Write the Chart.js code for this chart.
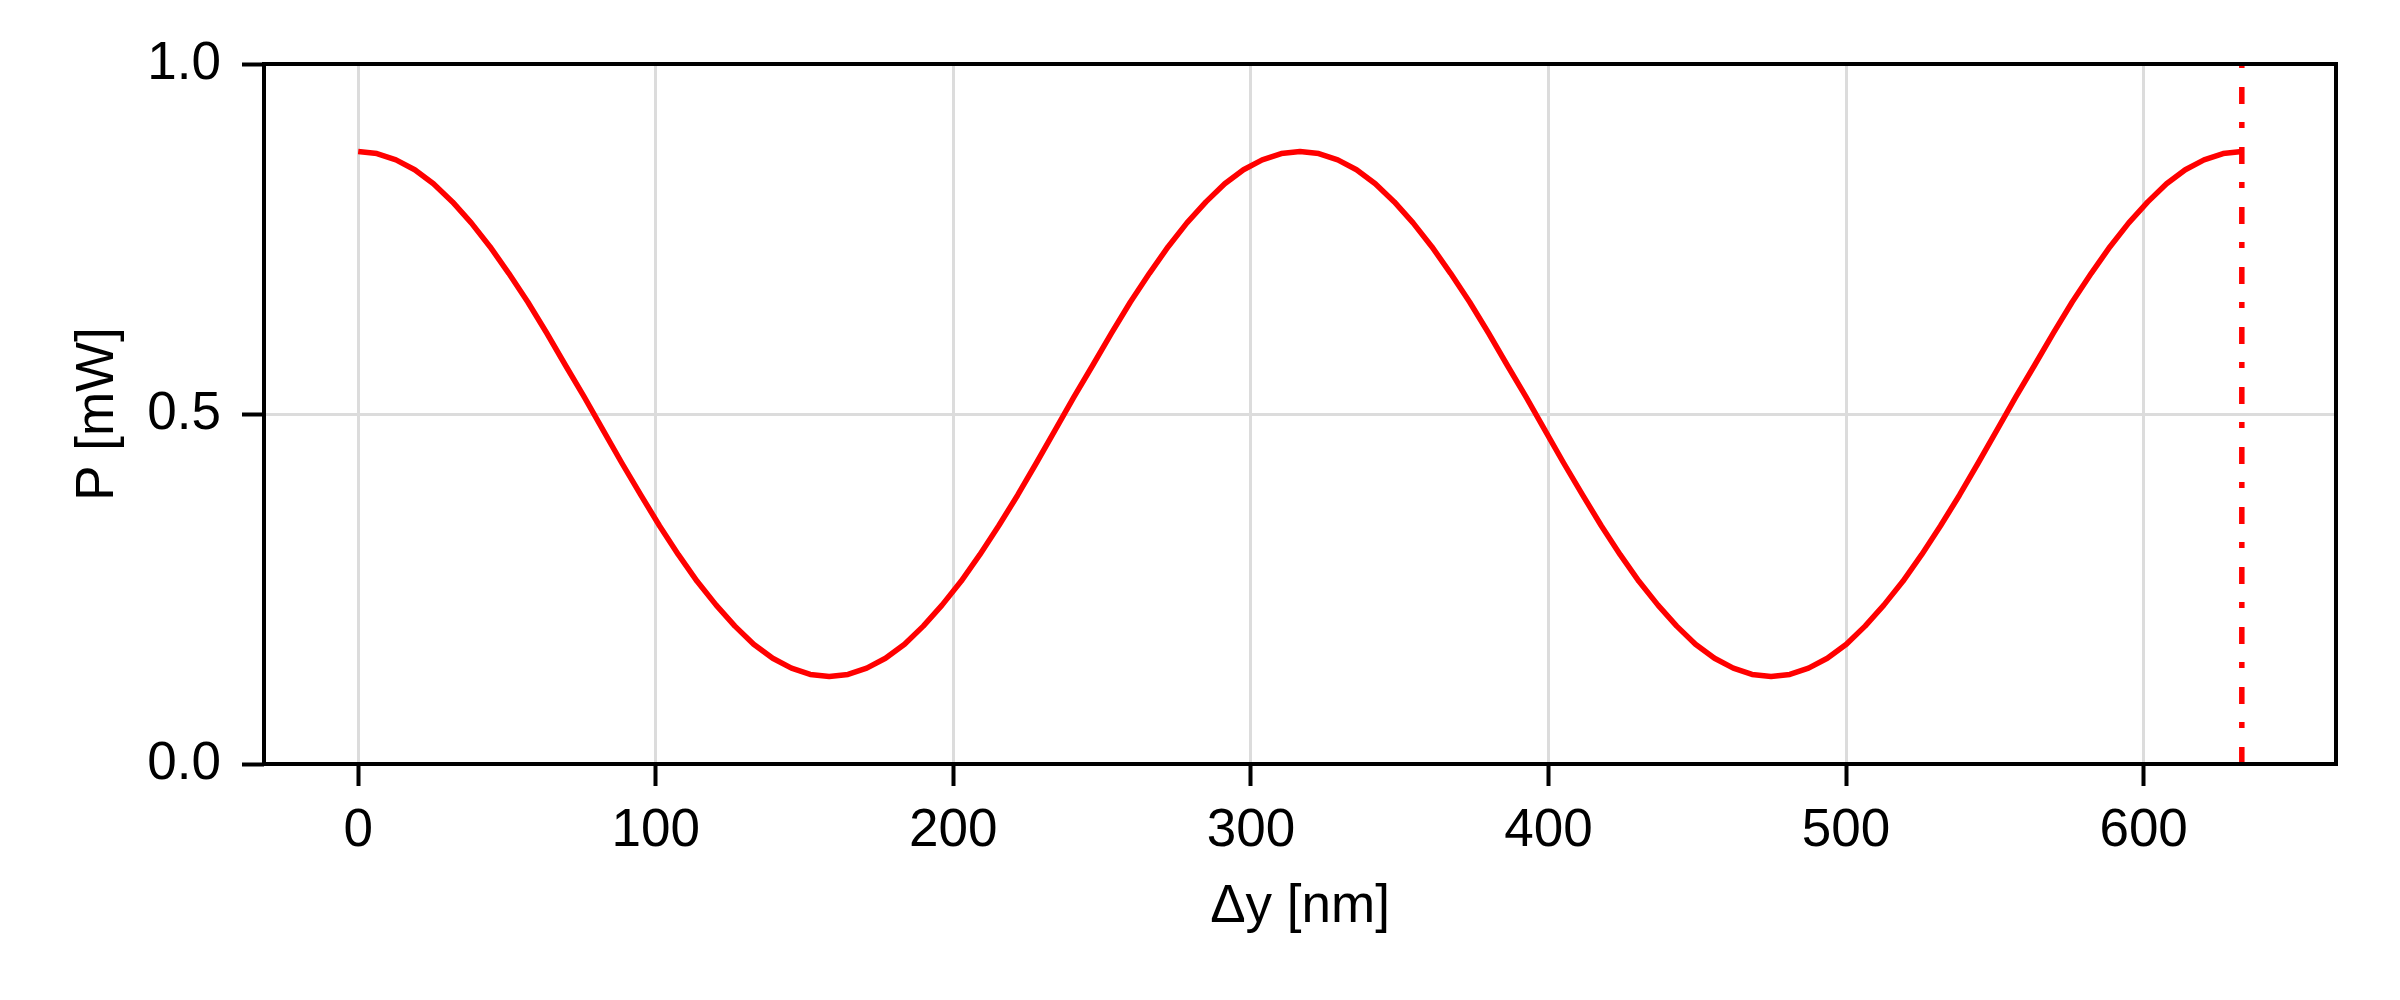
<!DOCTYPE html>
<html>
<head>
<meta charset="utf-8">
<script src="https://cdn.jsdelivr.net/npm/chart.js@4"></script>
<style>
  html, body { margin: 0; padding: 0; background: #fff; }
  #plot { display: block; }
</style>
</head>
<body>
<canvas id="plot" width="2400" height="1000"></canvas>
<script>
// Δy sweep [nm] and detected power [mW]
const DY = [
  0, 6.3, 12.7, 19.0, 25.3, 31.7, 38.0, 44.3, 50.6, 57.0,
  63.3, 69.6, 76.0, 82.3, 88.6, 95.0, 101.3, 107.6, 113.9, 120.3,
  126.6, 132.9, 139.3, 145.6, 151.9, 158.3, 164.6, 170.9, 177.2, 183.6,
  189.9, 196.2, 202.6, 208.9, 215.2, 221.6, 227.9, 234.2, 240.5, 246.9,
  253.2, 259.5, 265.9, 272.2, 278.5, 284.9, 291.2, 297.5, 303.8, 310.2,
  316.5, 322.8, 329.2, 335.5, 341.8, 348.2, 354.5, 360.8, 367.1, 373.5,
  379.8, 386.1, 392.5, 398.8, 405.1, 411.5, 417.8, 424.1, 430.4, 436.8,
  443.1, 449.4, 455.8, 462.1, 468.4, 474.8, 481.1, 487.4, 493.7, 500.1,
  506.4, 512.7, 519.1, 525.4, 531.7, 538.1, 544.4, 550.7, 557.0, 563.4,
  569.7, 576.0, 582.4, 588.7, 595.0, 601.4, 607.7, 614.0, 620.3, 626.7,
  633.0
];
const P_MW = [
  0.875, 0.872, 0.863, 0.849, 0.829, 0.803, 0.773, 0.739, 0.701, 0.660,
  0.616, 0.570, 0.524, 0.477, 0.430, 0.384, 0.340, 0.299, 0.261, 0.227,
  0.197, 0.171, 0.151, 0.137, 0.128, 0.125, 0.128, 0.137, 0.151, 0.171,
  0.197, 0.227, 0.261, 0.299, 0.340, 0.384, 0.430, 0.477, 0.524, 0.570,
  0.616, 0.660, 0.701, 0.739, 0.773, 0.803, 0.829, 0.849, 0.863, 0.872,
  0.875, 0.872, 0.863, 0.849, 0.829, 0.803, 0.773, 0.739, 0.701, 0.660,
  0.616, 0.570, 0.524, 0.477, 0.430, 0.384, 0.340, 0.299, 0.261, 0.227,
  0.197, 0.171, 0.151, 0.137, 0.128, 0.125, 0.128, 0.137, 0.151, 0.171,
  0.197, 0.227, 0.261, 0.299, 0.340, 0.384, 0.430, 0.477, 0.524, 0.570,
  0.616, 0.660, 0.701, 0.739, 0.773, 0.803, 0.829, 0.849, 0.863, 0.872,
  0.875
];
const MARKER_X = 633.0;        // dash-dot vertical line
const MARKER_Y = [0, 1];
const X_TICKS = [0, 100, 200, 300, 400, 500, 600];
const Y_TICKS = [0, 0.5, 1.0];
const X_LIMITS = [-31.65, 664.65];
const Y_LIMITS = [0, 1];
const X_TITLE = "Δy [nm]";
const Y_TITLE = "P [mW]";

const FONT = { family: "'Liberation Sans', Arial, Helvetica, sans-serif", size: 53 };
const RED = "#ff0000";

// box around the axes, drawn over the lines like matplotlib spines
const frame = {
  id: "frame",
  afterDatasetsDraw(chart){
    const { ctx, chartArea: a } = chart;
    ctx.save();
    ctx.strokeStyle = "#000";
    ctx.lineWidth = 4;
    ctx.strokeRect(a.left, a.top, a.right - a.left, a.bottom - a.top);
    ctx.restore();
  }
};

const curve = DY.map((x, i) => ({ x, y: P_MW[i] }));
const marker = MARKER_Y.map(y => ({ x: MARKER_X, y }));

new Chart(document.getElementById("plot"), {
  type: "line",
  data: {
    datasets: [
      { data: curve, borderColor: RED, borderWidth: 5.5, pointRadius: 0, tension: 0, borderJoinStyle: "round" },
      { data: marker, borderColor: RED, borderWidth: 5.5, pointRadius: 0, borderDash: [17, 19, 6, 18], borderCapStyle: "butt" }
    ]
  },
  options: {
    responsive: false,
    devicePixelRatio: 1,
    animation: false,
    events: [],
    layout: { padding: { left: 0, right: 64, top: 64, bottom: 0 } },
    plugins: { legend: { display: false }, tooltip: { enabled: false } },
    scales: {
      x: {
        type: "linear",
        min: X_LIMITS[0], max: X_LIMITS[1],
        afterBuildTicks: (s) => { s.ticks = X_TICKS.map(v => ({ value: v })); },
        afterFit: (s) => { s.height = 236; },
        grid: { color: "#dcdcdc", lineWidth: 3, tickLength: 22, tickColor: "#000", tickWidth: 4 },
        border: { display: false },
        ticks: { color: "#000", font: FONT, padding: 14, maxRotation: 0, autoSkip: false, callback: (v) => String(v) },
        title: { display: true, text: X_TITLE, color: "#000", font: FONT, padding: { top: 0, bottom: 61 } }
      },
      y: {
        type: "linear",
        min: Y_LIMITS[0], max: Y_LIMITS[1],
        afterBuildTicks: (s) => { s.ticks = Y_TICKS.map(v => ({ value: v })); },
        afterFit: (s) => { s.width = 264; },
        grid: { color: "#dcdcdc", lineWidth: 3, tickLength: 22, tickColor: "#000", tickWidth: 4 },
        border: { display: false },
        ticks: { color: "#000", font: FONT, padding: 21, callback: (v) => Number(v).toFixed(1) },
        title: { display: true, text: Y_TITLE, color: "#000", font: FONT, padding: { top: 67, bottom: 0 } }
      }
    }
  },
  plugins: [frame]
});
</script>
</body>
</html>
